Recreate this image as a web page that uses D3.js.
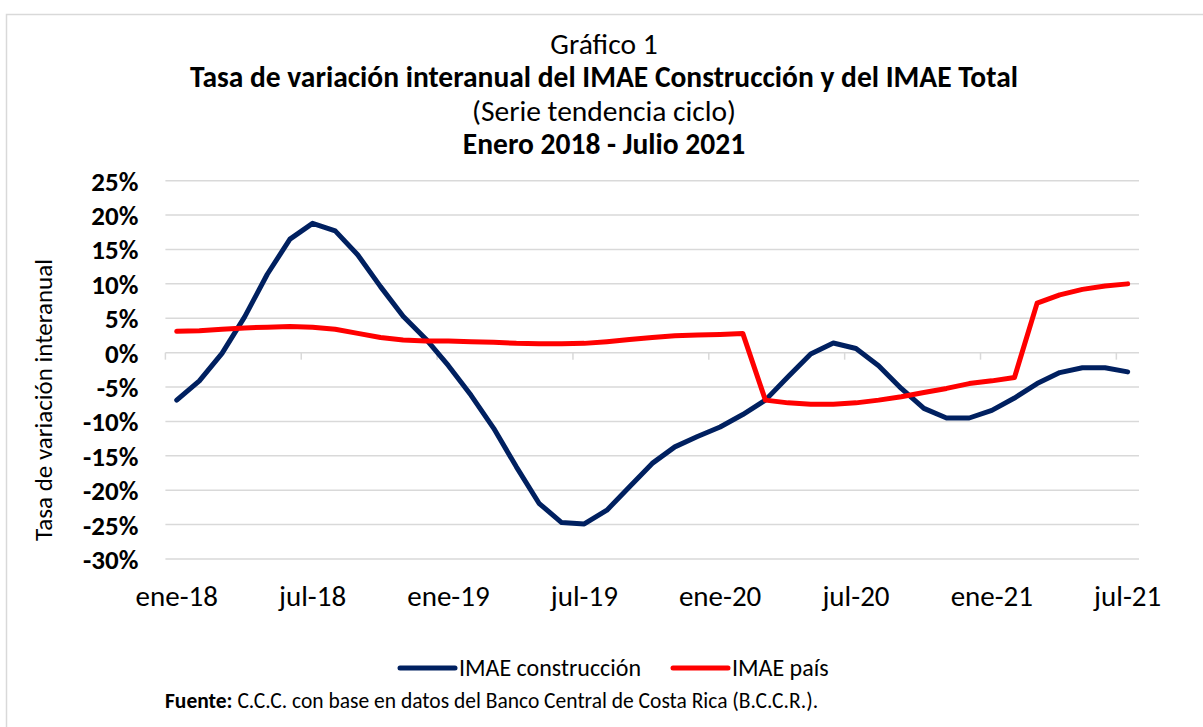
<!DOCTYPE html>
<html>
<head>
<meta charset="utf-8">
<script src="https://cdn.jsdelivr.net/npm/d3@7"></script>
<style>
  body { margin: 0; background: #fff; }
  svg text { font-family: Carlito, Calibri, "Open Sans", sans-serif; fill: #000; }
</style>
</head>
<body>
<div id="chart"></div>
<script>
/* Gráfico 1 — IMAE Construcción vs IMAE Total */
const months = [
  'ene-18','feb-18','mar-18','abr-18','may-18','jun-18','jul-18','ago-18','sep-18','oct-18','nov-18','dic-18',
  'ene-19','feb-19','mar-19','abr-19','may-19','jun-19','jul-19','ago-19','sep-19','oct-19','nov-19','dic-19',
  'ene-20','feb-20','mar-20','abr-20','may-20','jun-20','jul-20','ago-20','sep-20','oct-20','nov-20','dic-20',
  'ene-21','feb-21','mar-21','abr-21','may-21','jun-21','jul-21'
];
const construccion = [
  -6.9, -4.1, -0.1, 5.2, 11.4, 16.5, 18.8, 17.7, 14.2, 9.6, 5.3, 2.0,
  -1.9, -6.2, -11.0, -16.6, -21.9, -24.7, -24.9, -22.9, -19.5, -16.1, -13.7, -12.2,
  -10.8, -9.0, -6.9, -3.5, -0.2, 1.4, 0.6, -1.9, -5.2, -8.1, -9.5, -9.5,
  -8.4, -6.6, -4.5, -2.9, -2.2, -2.2, -2.8
];
const pais = [
  3.1, 3.2, 3.4, 3.6, 3.7, 3.8, 3.7, 3.4, 2.8, 2.2, 1.85, 1.7,
  1.7, 1.6, 1.5, 1.35, 1.3, 1.3, 1.35, 1.6, 1.9, 2.2, 2.45, 2.55,
  2.65, 2.8, -6.9, -7.3, -7.5, -7.5, -7.3, -6.9, -6.4, -5.8, -5.2, -4.5,
  -4.1, -3.6, 7.2, 8.4, 9.2, 9.7, 10.0
];
const yTicks = [25, 20, 15, 10, 5, 0, -5, -10, -15, -20, -25, -30];
const xTickLabels = ['ene-18','jul-18','ene-19','jul-19','ene-20','jul-20','ene-21','jul-21'];
const seriesNames = ['IMAE construcción', 'IMAE país'];
const colors = { construccion: '#002060', pais: '#ff0000', grid: '#d9d9d9' };

const W = 1203, H = 727;
const plot = { left: 165.4, right: 1139, top: 180.7, bottom: 559 };

const svg = d3.select('#chart').append('svg').attr('width', W).attr('height', H);

// outer frame (only left and top edges fall inside the picture)
svg.append('path').attr('d', `M6.5,${H} V14.5 H${W}`).attr('fill', 'none')
  .attr('stroke', colors.grid).attr('stroke-width', 1.5);

const x = d3.scaleBand().domain(months).range([plot.left, plot.right]);
const xc = d => x(d) + x.bandwidth() / 2;
const y = d3.scaleLinear().domain([-30, 25]).range([plot.bottom, plot.top]);

// titles
const titles = [
  { t: 'Gráfico 1', y: 54, w: 'normal' },
  { t: 'Tasa de variación interanual del IMAE Construcción y del IMAE Total', y: 87, w: 'bold' },
  { t: '(Serie tendencia ciclo)', y: 121, w: 'normal' },
  { t: 'Enero 2018 - Julio 2021', y: 154, w: 'bold' }
];
svg.selectAll('.title').data(titles).enter().append('text')
  .attr('x', 604).attr('y', d => d.y).attr('text-anchor', 'middle')
  .attr('font-size', '29.5px').attr('font-weight', d => d.w).text(d => d.t);

// gridlines
svg.append('g').selectAll('line').data(yTicks.filter(v => v !== 0)).enter().append('line')
  .attr('x1', plot.left).attr('x2', plot.right)
  .attr('y1', d => y(d)).attr('y2', d => y(d))
  .attr('stroke', colors.grid).attr('stroke-width', 1.5);

// y axis labels
const yAxis = svg.append('g').attr('transform', `translate(${plot.left},0)`)
  .call(d3.axisLeft(y).tickValues(yTicks).tickSize(0).tickPadding(27).tickFormat(d => d + '%'));
yAxis.select('.domain').remove();
yAxis.selectAll('text').attr('font-size', '27px').attr('font-weight', 'bold').attr('dy', '0.35em');

// category axis on the zero line, ticks between categories every 6 months
const tickIdx = d3.range(0, months.length, 6);
svg.append('line').attr('x1', plot.left).attr('x2', plot.right)
  .attr('y1', y(0)).attr('y2', y(0)).attr('stroke', colors.grid).attr('stroke-width', 1.5);
svg.append('g').selectAll('line').data(tickIdx).enter().append('line')
  .attr('x1', i => x(months[i])).attr('x2', i => x(months[i]))
  .attr('y1', y(0)).attr('y2', y(0) + 7)
  .attr('stroke', colors.grid).attr('stroke-width', 1.5);
svg.append('g').selectAll('text').data(xTickLabels).enter().append('text')
  .attr('x', d => xc(d)).attr('y', 606).attr('text-anchor', 'middle')
  .attr('font-size', '29px').text(d => d);

// y axis title
svg.append('text').attr('transform', 'translate(52,400) rotate(-90)')
  .attr('text-anchor', 'middle').attr('font-size', '25px').text('Tasa de variación interanual');

// series
const line = d3.line().x((d, i) => xc(months[i])).y(d => y(d));
[[construccion, colors.construccion], [pais, colors.pais]].forEach(([vals, c]) => {
  svg.append('path').datum(vals).attr('d', line).attr('fill', 'none')
    .attr('stroke', c).attr('stroke-width', 5)
    .attr('stroke-linejoin', 'round').attr('stroke-linecap', 'round');
});

// legend
const legend = [
  { name: seriesNames[0], c: colors.construccion, x: 400 },
  { name: seriesNames[1], c: colors.pais, x: 673 }
];
const lg = svg.append('g').selectAll('g').data(legend).enter().append('g');
lg.append('line').attr('x1', d => d.x).attr('x2', d => d.x + 55)
  .attr('y1', 668).attr('y2', 668).attr('stroke', d => d.c)
  .attr('stroke-width', 5).attr('stroke-linecap', 'round');
lg.append('text').attr('x', d => d.x + 59).attr('y', 676)
  .attr('font-size', '24px').text(d => d.name);

// source note
const src = svg.append('text').attr('x', 165).attr('y', 708).attr('font-size', '21.5px');
src.append('tspan').attr('font-weight', 'bold').text('Fuente:');
src.append('tspan').text(' C.C.C. con base en datos del Banco Central de Costa Rica (B.C.C.R.).');
</script>
</body>
</html>
